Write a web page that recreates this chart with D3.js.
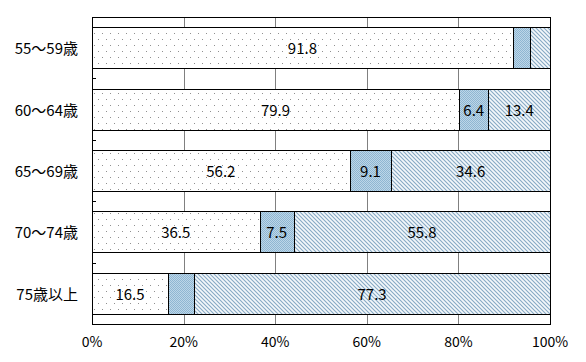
<!DOCTYPE html>
<html>
<head>
<meta charset="utf-8">
<script src="https://cdn.jsdelivr.net/npm/d3@7"></script>
<style>
  body { margin: 0; background: #fff; }
  text { font-family: "Noto Sans CJK JP", "DejaVu Sans", sans-serif; fill: #000; }
</style>
</head>
<body>
<div id="chart"></div>
<script>
// frame constants
const FRAME_WIDTH = 586;
const FRAME_HEIGHT = 362;
const MARGINS = {left: 92, right: 36, top: 17, bottom: 38};

const VIS_WIDTH = FRAME_WIDTH - MARGINS.left - MARGINS.right;
const VIS_HEIGHT = FRAME_HEIGHT - MARGINS.top - MARGINS.bottom;

// data
const categories = ["55～59歳", "60～64歳", "65～69歳", "70～74歳", "75歳以上"];
const seriesA = [91.8, 79.9, 56.2, 36.5, 16.5];
const seriesB = [3.7, 6.4, 9.1, 7.5, 5.7];
const seriesC = [4.4, 13.4, 34.6, 55.8, 77.3];
// which values get a label in the bar
const showA = [true, true, true, true, true];
const showB = [false, true, true, true, false];
const showC = [false, true, true, true, true];
const xTicks = [0, 20, 40, 60, 80, 100];

const FRAME = d3.select("#chart")
  .append("svg")
  .attr("width", FRAME_WIDTH)
  .attr("height", FRAME_HEIGHT);

// fill patterns
const defs = FRAME.append("defs");

const dots = defs.append("pattern")
  .attr("id", "dots")
  .attr("patternUnits", "userSpaceOnUse")
  .attr("width", 8).attr("height", 12);
dots.append("rect").attr("width", 8).attr("height", 12).attr("fill", "#fff");
dots.append("rect").attr("x", 2).attr("y", 3).attr("width", 1).attr("height", 1).attr("fill", "#909090");
dots.append("rect").attr("x", 6).attr("y", 9).attr("width", 1).attr("height", 1).attr("fill", "#909090");

const check = defs.append("pattern")
  .attr("id", "check")
  .attr("patternUnits", "userSpaceOnUse")
  .attr("width", 2).attr("height", 2);
check.append("rect").attr("width", 2).attr("height", 2).attr("fill", "#bcd6e8");
check.append("rect").attr("width", 1).attr("height", 1).attr("fill", "#8fb6d2");
check.append("rect").attr("x", 1).attr("y", 1).attr("width", 1).attr("height", 1).attr("fill", "#8fb6d2");

const stripes = defs.append("pattern")
  .attr("id", "stripes")
  .attr("patternUnits", "userSpaceOnUse")
  .attr("width", 4).attr("height", 4);
stripes.append("rect").attr("width", 4).attr("height", 4).attr("fill", "#f4f8fb");
stripes.append("path")
  .attr("d", "M0,0 L4,4 M-1,3 L1,5 M3,-1 L5,1")
  .attr("stroke", "#86a9c4")
  .attr("stroke-width", 1.1);

// scales
const X_SCALE = d3.scaleLinear()
  .domain([0, 100])
  .range([MARGINS.left, MARGINS.left + VIS_WIDTH]);

const Y_SCALE = d3.scaleBand()
  .domain(categories)
  .range([MARGINS.top, MARGINS.top + VIS_HEIGHT])
  .paddingInner(0.33)
  .paddingOuter(0.165);

const BAND_STEP = VIS_HEIGHT / categories.length;

// gridlines
FRAME.append("g")
  .selectAll("line")
  .data(xTicks.slice(1, -1))
  .enter()
  .append("line")
    .attr("x1", (d) => Math.round(X_SCALE(d)) + 0.5)
    .attr("x2", (d) => Math.round(X_SCALE(d)) + 0.5)
    .attr("y1", MARGINS.top)
    .attr("y2", MARGINS.top + VIS_HEIGHT)
    .attr("stroke", "#808080")
    .attr("stroke-width", 1);

// stack the series, scaled to 100% of each row's total
const rows = categories.map((c, i) => {
  const a = seriesA[i], b = seriesB[i], cc = seriesC[i];
  const k = 100 / (a + b + cc);
  return [
    {cat: c, x0: 0, x1: a * k, v: a, fill: "url(#dots)", show: showA[i]},
    {cat: c, x0: a * k, x1: (a + b) * k, v: b, fill: "url(#check)", show: showB[i]},
    {cat: c, x0: (a + b) * k, x1: 100, v: cc, fill: "url(#stripes)", show: showC[i]}
  ];
});
const segs = rows.flat();

FRAME.append("g")
  .selectAll("rect")
  .data(segs)
  .enter()
  .append("rect")
    .attr("x", (d) => Math.round(X_SCALE(d.x0)) + 0.5)
    .attr("y", (d) => Math.round(Y_SCALE(d.cat)) + 0.5)
    .attr("width", (d) => Math.round(X_SCALE(d.x1)) - Math.round(X_SCALE(d.x0)))
    .attr("height", Math.round(Y_SCALE.bandwidth()))
    .attr("fill", (d) => d.fill)
    .attr("stroke", "#000")
    .attr("stroke-width", 1);

// value labels
FRAME.append("g")
  .selectAll("text")
  .data(segs.filter((d) => d.show))
  .enter()
  .append("text")
    .attr("x", (d) => (X_SCALE(d.x0) + X_SCALE(d.x1)) / 2)
    .attr("y", (d) => Y_SCALE(d.cat) + Y_SCALE.bandwidth() / 2)
    .attr("text-anchor", "middle")
    .attr("dominant-baseline", "central")
    .attr("font-size", 15)
    .text((d) => d.v.toFixed(1));

// plot frame
FRAME.append("rect")
  .attr("x", MARGINS.left + 0.5)
  .attr("y", MARGINS.top + 0.5)
  .attr("width", VIS_WIDTH)
  .attr("height", VIS_HEIGHT)
  .attr("fill", "none")
  .attr("stroke", "#000")
  .attr("stroke-width", 1);

// small inner ticks at band boundaries
FRAME.append("g")
  .selectAll("line")
  .data(d3.range(1, categories.length))
  .enter()
  .append("line")
    .attr("x1", MARGINS.left)
    .attr("x2", MARGINS.left + 4)
    .attr("y1", (d) => Math.round(MARGINS.top + d * BAND_STEP) + 0.5)
    .attr("y2", (d) => Math.round(MARGINS.top + d * BAND_STEP) + 0.5)
    .attr("stroke", "#000");

// category labels
FRAME.append("g")
  .selectAll("text")
  .data(categories)
  .enter()
  .append("text")
    .attr("x", MARGINS.left - 14)
    .attr("y", (d) => Y_SCALE(d) + Y_SCALE.bandwidth() / 2)
    .attr("text-anchor", "end")
    .attr("dominant-baseline", "central")
    .attr("font-size", 15)
    .text((d) => d);

// x tick labels
FRAME.append("g")
  .selectAll("text")
  .data(xTicks)
  .enter()
  .append("text")
    .attr("x", (d) => X_SCALE(d))
    .attr("y", MARGINS.top + VIS_HEIGHT + 17)
    .attr("text-anchor", "middle")
    .attr("dominant-baseline", "central")
    .attr("font-size", 14)
    .text((d) => d + "%");
</script>
</body>
</html>
